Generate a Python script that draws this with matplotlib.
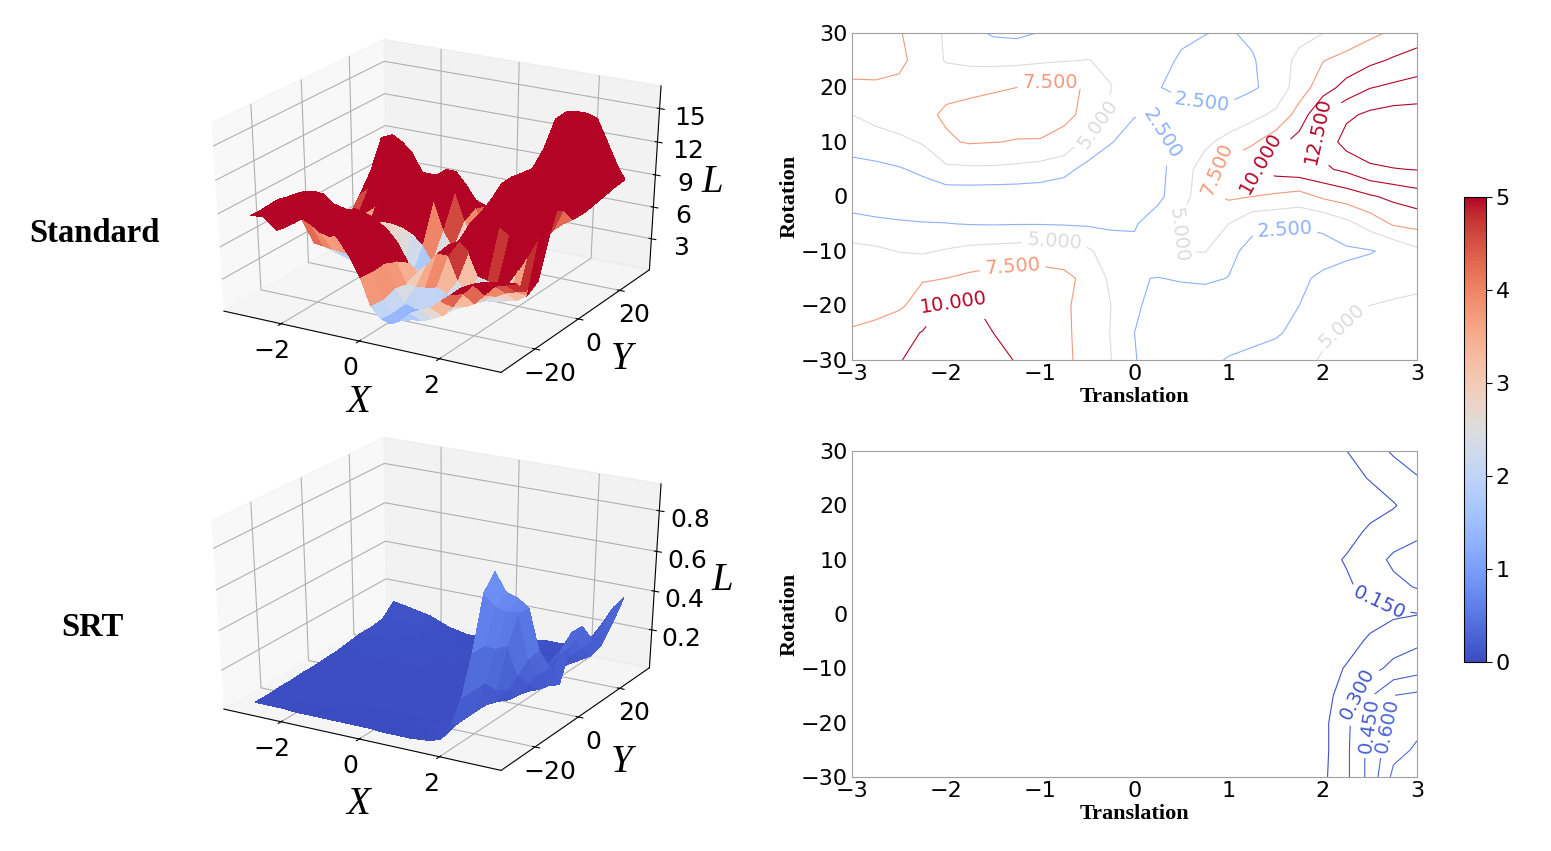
import numpy as np
import matplotlib
matplotlib.use('Agg')
import matplotlib.pyplot as plt
from matplotlib import cm
from matplotlib.colors import Normalize

# grid the loss was read on, rows below go from rotation 30 down to -30
translation = np.arange(-3, 3.25, 0.25)
rotation = np.arange(30, -35, -5)

standard_loss = np.array([
    [9, 8.5, 7.7, 6.2, 4.7, 3.2, 2.2, 2.0, 2.6, 3.2, 3.4, 3.4, 3.2, 3.0, 2.8, 2.55, 2.3, 2.9, 3.6, 4.2, 4.95, 5.9, 6.9, 7.9, 8.8],
    [9.3, 8.8, 8, 6.6, 4.8, 4.4, 4.3, 4.4, 4.6, 4.85, 5.05, 4.7, 4, 3, 2.3, 1.9, 1.9, 2.3, 3.6, 5.7, 7.4, 8.3, 9.4, 10.3, 11],
    [6.7, 7, 7, 7, 7, 7.1, 7.3, 7.5, 8.2, 8.2, 7.2, 5.05, 3.6, 2.55, 2.2, 1.9, 1.9, 2.2, 3.3, 6.3, 8.8, 10.9, 12.4, 13, 13.5],
    [5, 5.8, 6.4, 7, 7.8, 8.1, 8.3, 8.3, 8.2, 8, 7, 4.5, 2.6, 2.7, 3, 3, 3, 4.3, 5.5, 8.5, 12.5, 14.5, 15.5, 16, 16],
    [3.6, 3.9, 4.4, 5.2, 7.2, 7.7, 7.55, 7.4, 7.4, 6.8, 4.2, 2.6, 1.6, 2.2, 3, 4.4, 6, 7.1, 9, 11, 13.3, 16, 16.8, 17, 17],
    [1.6, 1.9, 2.3, 3, 4.5, 4.6, 4.6, 4.4, 4, 3.2, 1.8, 1.2, 1, 1.9, 3.6, 6.4, 8.6, 10.2, 11, 11.5, 12.1, 13, 14.5, 14.9, 15.1],
    [1.9, 1.6, 1.3, 1.1, 1.0, 1.0, 0.9, 0.9, 0.9, 0.9, 0.9, 1, 1.3, 2, 3.9, 6.8, 7.9, 7.5, 7.05, 6.5, 7.9, 8.7, 9.7, 10.6, 11.4],
    [2.9, 2.8, 2.7, 2.6, 2.55, 2.4, 2.35, 2.4, 2.4, 2.3, 2.2, 2.1, 2.3, 3.6, 5.3, 5.8, 5, 3.0, 2.75, 2.65, 2.9, 4.3, 6, 7.8, 8.3],
    [5.9, 5.5, 4.9, 4.7, 5.2, 5.7, 5.9, 6.1, 6.4, 6.4, 5.4, 3.8, 3, 3.9, 5.1, 5.1, 3, 1.9, 1.7, 1.7, 1.8, 2.1, 2.35, 3, 4.5],
    [7, 7, 7.1, 7.3, 7.5, 8, 8.4, 8.6, 8.4, 8, 7, 4.5, 2.6, 2.45, 2.7, 2.85, 2.45, 1.9, 1.9, 2.2, 2.8, 3.2, 3.7, 4, 4.2],
    [6, 6.5, 7.1, 8.6, 10.3, 10.2, 9.5, 8.9, 8.4, 7.8, 6.8, 5, 2.9, 1.6, 1.3, 1.3, 1.4, 1.6, 2.1, 2.5, 3, 4, 5, 5.3, 5.6],
    [7.9, 8.4, 9.3, 10.1, 10.8, 10.6, 10, 9.2, 8.6, 7.8, 6.9, 4.9, 2.5, 1.5, 1.2, 1.2, 1.3, 1.7, 2.2, 3.2, 4.6, 5.6, 6, 6.2, 6.4],
    [8.6, 9.2, 9.9, 10.6, 11, 10.9, 10.5, 9.9, 9, 8, 6.7, 5.05, 2.6, 1.6, 1.3, 1.8, 2.7, 3.2, 3.6, 4.4, 5.2, 6, 6.5, 6.8, 7.1],
])

srt_loss = np.array([
    [.13, .12, .11, .1, .09, .07, .05, .04, .03, .03, .03, .03, .03, .04, .05, .07, .08, .08, .08, .1, .09, .148, .23, .32, .38],
    [.07, .07, .07, .07, .07, .06, .05, .05, .04, .04, .03, .03, .03, .03, .03, .04, .05, .06, .06, .07, .08, .12, .155, .22, .29],
    [.06, .06, .06, .06, .06, .06, .05, .05, .05, .04, .04, .04, .03, .03, .03, .03, .03, .03, .04, .04, .05, .08, .11, .14, .21],
    [.06, .06, .06, .06, .06, .05, .05, .05, .05, .04, .04, .04, .03, .03, .03, .03, .03, .04, .05, .06, .08, .11, .17, .22, .27],
    [.05, .05, .05, .05, .05, .05, .05, .05, .04, .04, .04, .04, .03, .03, .03, .04, .05, .06, .07, .09, .11, .16, .23, .33, .37],
    [.04, .04, .04, .04, .04, .04, .04, .04, .04, .04, .03, .03, .03, .03, .03, .03, .04, .05, .06, .07, .09, .13, .19, .26, .31],
    [.035, .035, .035, .035, .03, .03, .03, .03, .03, .03, .03, .03, .02, .02, .02, .02, .03, .03, .04, .04, .05, .08, .1, .13, .145],
    [.03, .03, .03, .03, .03, .03, .03, .03, .03, .02, .02, .02, .02, .02, .02, .02, .03, .03, .04, .05, .06, .1, .17, .23, .27],
    [.03, .03, .03, .03, .03, .03, .03, .03, .02, .02, .02, .02, .02, .02, .02, .02, .03, .04, .05, .07, .09, .16, .25, .34, .39],
    [.025, .025, .025, .025, .025, .025, .02, .02, .02, .02, .02, .02, .02, .02, .02, .02, .03, .05, .06, .08, .11, .2, .43, .6, .63],
    [.025, .025, .02, .02, .02, .02, .02, .02, .02, .02, .02, .02, .02, .02, .02, .02, .03, .04, .05, .07, .11, .27, .45, .64, .71],
    [.02, .02, .02, .02, .02, .02, .02, .02, .015, .015, .015, .015, .015, .015, .015, .015, .02, .03, .04, .06, .11, .27, .5, .7, .77],
    [.02, .02, .02, .02, .015, .015, .015, .015, .015, .015, .015, .015, .015, .01, .01, .01, .01, .015, .02, .04, .12, .27, .5, .79, .9],
])

standard_levels = [2.5, 5, 7.5, 10, 12.5, 15]
srt_levels = [0.15, 0.30, 0.45, 0.60, 0.75]
standard_ticks = [3, 6, 9, 12, 15]
srt_ticks = [0.2, 0.4, 0.6, 0.8]

# where the contour labels sit
standard_label_pos = [(-0.9, 20.7), (0.72, 17.5), (0.3, 11.5), (1.6, -6.0), (-1.3, -12.3), (-0.85, -8.8),
                      (0.45, -7.0), (-0.4, 13.5), (2.15, -22.5), (0.8, 5.0), (1.36, 5.5), (-1.92, -20.0), (1.95, 12.0)]
srt_label_pos = [(2.6, 2.0), (2.35, -14.5), (2.48, -20.5), (2.66, -20.5)]

W, H = 1551, 851
plt.rcParams['font.family'] = 'DejaVu Sans'
serif = 'Liberation Serif'
fig = plt.figure(figsize=(W / 100, H / 100), dpi=100)


def px_rect(left, top, right, bottom):
    return [left / W, 1 - bottom / H, (right - left) / W, (bottom - top) / H]


def draw_surface(rect, loss, zticks, ztop, zfmt):
    ax = fig.add_axes(rect, projection='3d')
    # the source panels were stretched a bit, so let the 3d box fill the whole rect
    ax.apply_aspect = lambda position=None: None
    ax.set_box_aspect((1, 1, 1))
    ax.patch.set_visible(False)
    X, Y = np.meshgrid(translation, rotation)
    ax.plot_surface(X, Y, loss, cmap=cm.coolwarm, vmin=0, vmax=5, rstride=1, cstride=1,
                    linewidth=0, antialiased=False)
    ax.set_xlim(-3.5, 3.5)
    ax.set_ylim(-35, 35)
    ax.set_zlim(0, ztop)
    ax.set_xticks([-2, 0, 2])
    ax.set_yticks([-20, 0, 20])
    ax.set_zticks(zticks)
    ax.set_zticklabels([zfmt % t for t in zticks])
    ax.tick_params(labelsize=18, pad=1)
    ax.zaxis.set_tick_params(pad=4)
    return ax


def draw_contour(rect, loss, levels, label_levels, label_pos):
    ax = fig.add_axes(px_rect(*rect))
    cs = ax.contour(translation, rotation, loss, levels=levels, cmap=cm.coolwarm,
                    norm=Normalize(0, 10), linewidths=0.8)
    ax.clabel(cs, levels=label_levels, fmt='%1.3f', fontsize=14, inline=True, manual=label_pos)
    ax.set_xlim(-3, 3)
    ax.set_ylim(-30, 30)
    ax.set_xticks(range(-3, 4))
    ax.set_yticks(range(-30, 31, 10))
    ax.tick_params(labelsize=16, length=0, pad=3)
    for s in ax.spines.values():
        s.set_color('#a0a0a0')
    ax.set_xlabel('Translation', family=serif, weight='bold', size=16, labelpad=2)
    ax.set_ylabel('Rotation', family=serif, weight='bold', size=16, labelpad=1)
    return ax


def axis_letter(x, y, s):
    fig.text(x / W, 1 - y / H, s, family=serif, style='italic', size=28, ha='center', va='center')


draw_surface(px_rect(164, 24, 702, 385), standard_loss, standard_ticks, 17, '%d')
draw_surface(px_rect(164, 422, 702, 783), srt_loss, srt_ticks, 0.93, '%.1f')

axis_letter(358, 403, 'X')
axis_letter(622, 360, 'Y')
axis_letter(712, 182, 'L')
axis_letter(358, 805, 'X')
axis_letter(622, 763, 'Y')
axis_letter(722, 580, 'L')

draw_contour((852, 33, 1417, 360), standard_loss, standard_levels, [2.5, 5, 7.5, 10, 12.5], standard_label_pos)
draw_contour((852, 451, 1417, 777), srt_loss, srt_levels, [0.15, 0.30, 0.45, 0.60], srt_label_pos)

fig.text(94 / W, 1 - 234 / H, 'Standard', family=serif, weight='bold', size=23.5, ha='center', va='center')
fig.text(92 / W, 1 - 628 / H, 'SRT', family=serif, weight='bold', size=23.5, ha='center', va='center')

cax = fig.add_axes(px_rect(1464, 197, 1486, 662))
cb = fig.colorbar(cm.ScalarMappable(Normalize(0, 5), cm.coolwarm), cax=cax, ticks=[0, 1, 2, 3, 4, 5])
cb.ax.tick_params(labelsize=16, length=4, pad=3)

fig.savefig('out.png', dpi=100)
